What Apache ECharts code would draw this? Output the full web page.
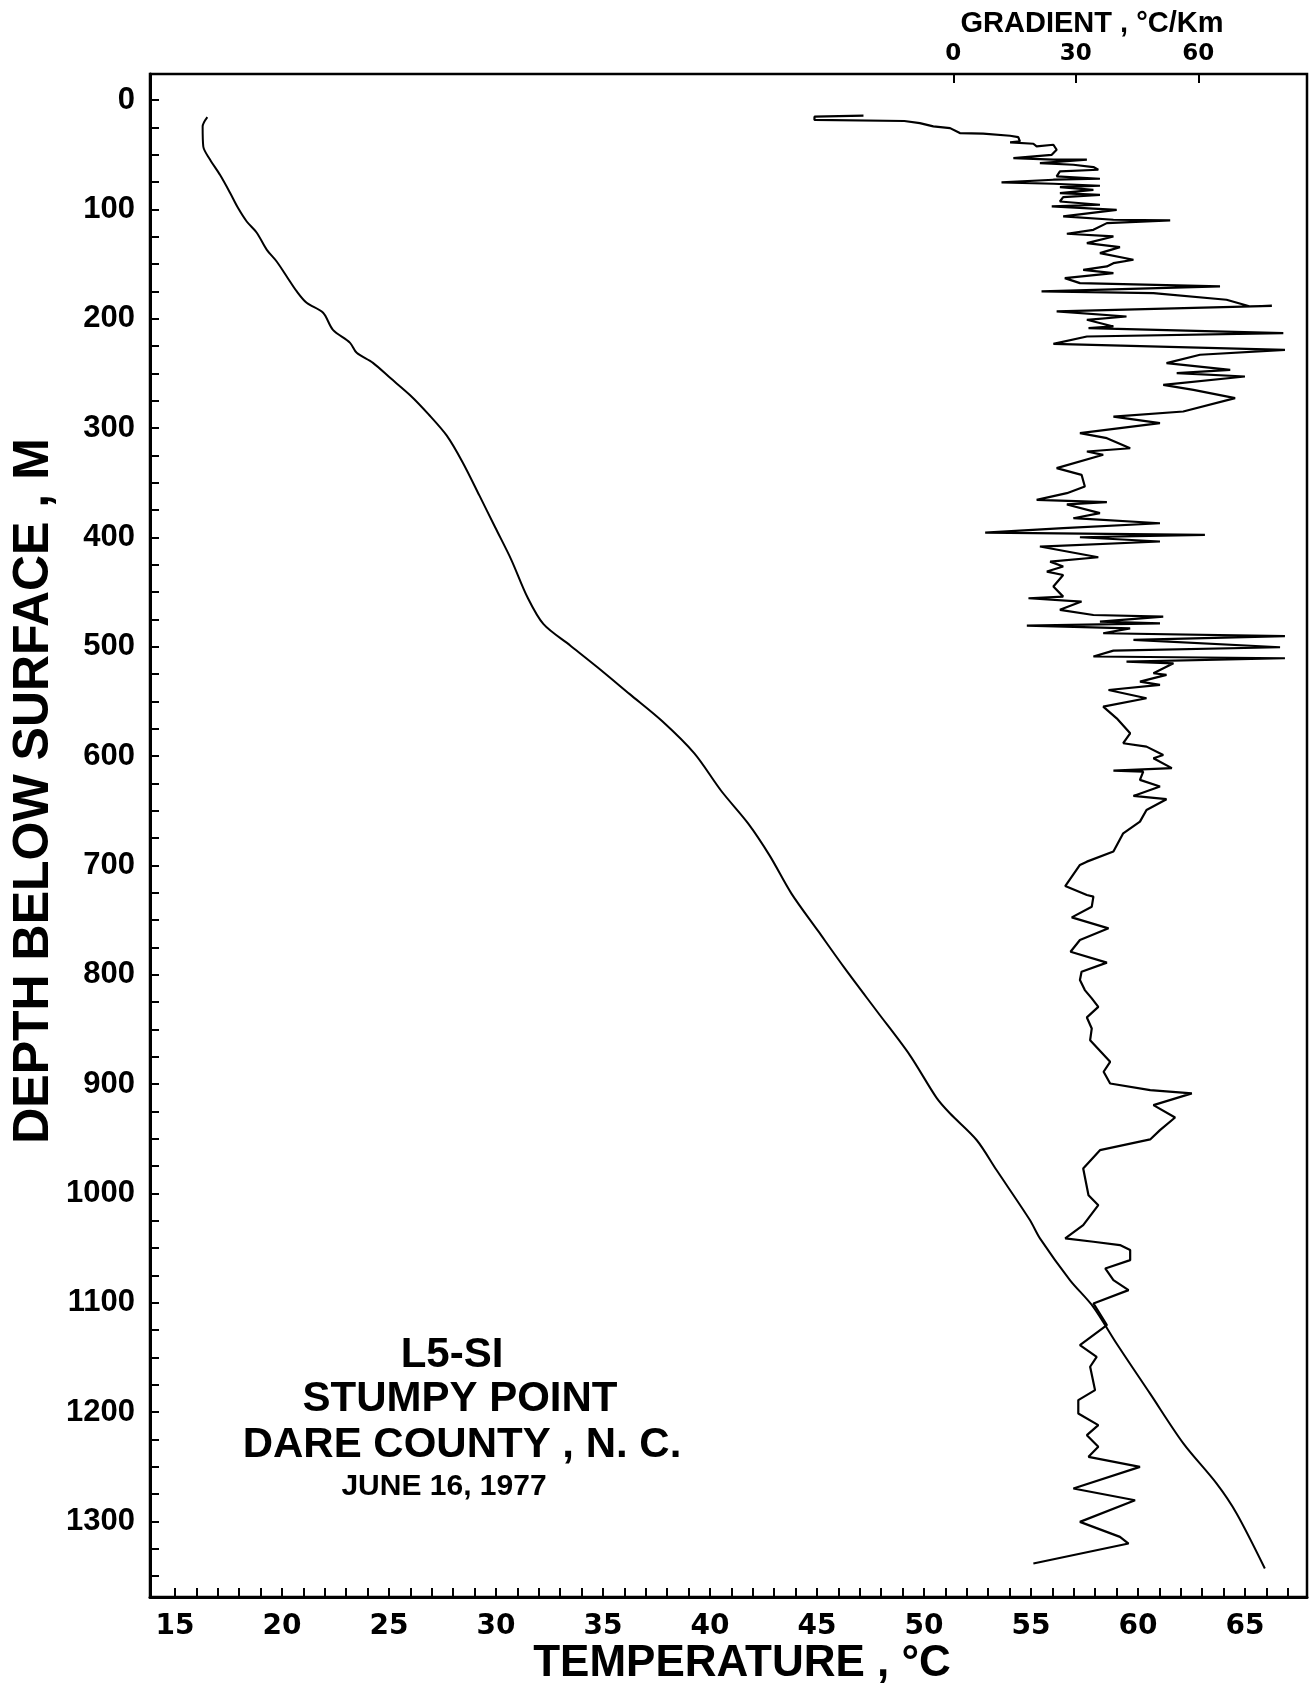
<!DOCTYPE html>
<html>
<head>
<meta charset="utf-8">
<title>L5-SI Stumpy Point</title>
<script src="https://cdn.jsdelivr.net/npm/echarts@6/dist/echarts.min.js"></script>
<style>
    html, body { margin: 0; padding: 0; background: #fff; }
    #main { width: 1312px; height: 1688px; }
</style>
</head>
<body>
<div id="main"></div>
<script>
// 温度曲线 (深度 m, 温度 °C)
var tempDepth = [15.4, 24, 42.3, 54.4, 68.2, 84.6, 98.4, 110.9, 121.2, 136.8, 147.5, 161.2, 174.9, 185.3, 194.4,
    210, 221.9, 231, 240.2, 253.9, 270, 287.1, 306.8, 331.5, 361.0, 390.6, 420.1, 454.6, 479.2, 498.9, 518.6,
    543.2, 567.8, 597.4, 631.8, 661.4, 690.9, 725.4, 759.8, 794.3, 833.7, 873.1, 912.5, 926.6, 951, 978.5,
    1024.2, 1041, 1079.1, 1103.6, 1137.1, 1182.8, 1228.5, 1265.1, 1292.6, 1342.9];
var tempValue = [16.51, 16.29, 16.32, 16.64, 17.10, 17.57, 17.94, 18.35, 18.82, 19.29, 19.75, 20.22, 20.69, 21.15, 21.92,
    22.38, 23.18, 23.49, 24.25, 25.05, 26.0, 26.84, 27.70, 28.45, 29.21, 29.96, 30.71, 31.47, 32.22, 33.48, 34.74,
    36.25, 37.76, 39.27, 40.53, 41.78, 42.79, 43.80, 45.05, 46.31, 47.82, 49.33, 50.59, 51.21, 52.46, 53.39,
    54.95, 55.42, 56.82, 57.91, 59.00, 60.56, 62.12, 63.67, 64.61, 65.93];

// 梯度曲线 (深度 m, 梯度 °C/Km)
var gradDepth = [14, 15, 18, 19, 20.9, 23.9, 25.5, 30.0, 30.6, 32.5, 33.7, 37.7, 38.6, 39.8, 42.2, 40.7, 45.3, 49.9,
    52.9, 54.4, 54.4, 57.5, 59.0, 61.1, 63.6, 65.1, 69.7, 71.8, 72.7, 75.2, 76.4, 78.2, 79.4, 81.9, 84.9, 86.5,
    88.6, 92.6, 95.6, 97.1, 100.2, 106.3, 109.3, 109.9, 112.4, 118.5, 122.1, 124.6, 130.7, 134.3, 139.8, 145.9,
    149.0, 152.0, 155.1, 158.1, 162.7, 167.3, 170.3, 174.9, 176.4, 182.5, 188.6, 188.0, 193.2, 197.8, 200.8,
    206.9, 208.4, 213.0, 216.1, 222.8, 228.3, 232.8, 240.5, 246.6, 249.6, 252.7, 260.3, 264.9, 272.5, 284.7,
    289.3, 295.4, 304.5, 309.1, 318.3, 321.3, 324.3, 336.5,
    342.6, 353.3, 359.4, 365.5, 367.6, 369.7, 377.7, 382.3, 386.9, 391.4, 395.4, 397.5, 399.7, 403.6, 408.2,
    418.0, 422.0, 426.5, 431.1, 434.2, 444.8, 454.0, 455.5, 458.5, 466.1, 470.8, 472.3, 476.8, 478.4, 480.5,
    483.1, 487.5, 490.1, 493.6, 500.3, 503.4, 508.8, 510.4, 513.4, 515.0, 524.1, 525.6, 531.7, 534.8, 539.4,
    547.0, 554.6, 565.3, 579.0, 588.1, 591.2, 598.8, 601.8, 610.9, 613.1, 614.0, 621.6, 627.7, 636.3, 639.3, 649.1,
    659.8, 670.5, 687.2, 696.4, 699.4, 718.7, 726.9, 728.4, 737.6, 747.4, 757.4, 768.1, 778.8, 788.8, 797.1,
    804.7, 813.9, 821.5, 829.2, 838.9, 849.0, 859.7, 879.5, 888.6, 899.3, 905.4, 908.4, 919.1, 930.4, 942.0,
    950.5, 960.3, 977.0, 1001.5, 1010.6,
    1028.8, 1041.0, 1044.1, 1047.1, 1051.7, 1060.9, 1068.5, 1079.1, 1088.3, 1100.5, 1120.3, 1138.6, 1149.3,
    1158.4, 1179.8, 1188.9, 1201.1, 1211.8, 1221.0, 1231.6, 1240.8, 1250.0, 1269.8, 1280.5, 1300.3, 1314.0,
    1320.1, 1338.4];
var gradValue = [-22, -34, -34, -12, -8.2, -4.9, -0.8, 1.6, 7.3, 13.9, 15.9, 16.3, 13.9, 19.6, 20.4, 24.5, 25.3, 24.1,
    14.7, 24.5, 32.7, 21.2, 29.4, 34.3, 35.5, 26.1, 25.3, 35.9, 24.5, 11.8, 24.5, 35.9, 26.1, 34.3, 26.1, 35.9,
    26.9, 26.1, 35.9, 24.1, 40.0, 26.9, 39.2, 53.1, 37.6, 34.3, 27.8, 39.2, 32.7, 40.8, 35.9, 44.1,
    39.2, 37.6, 31.8, 39.2, 27.3, 31.0, 65.3, 21.6, 49.0, 66.9, 72.7, 78.0, 25.3, 42.4, 32.7,
    39.2, 33.1, 80.8, 32.7, 24.5, 81.2, 60.4, 52.2, 67.8, 54.7, 71.4, 51.4, 58.8, 69.0, 56.3,
    39.2, 50.6, 31.0, 37.6, 43.3, 32.7, 36.7, 25.3,
    31.4, 32.2, 27.8, 20.4, 37.6, 27.8, 35.9, 29.4, 50.6, 26.9, 7.8, 61.6, 31.0, 50.6, 21.2,
    35.5, 23.7, 26.9, 22.9, 26.9, 24.5, 26.9, 18.4, 31.4, 26.1, 34.3, 51.4, 35.9, 50.6, 18.0,
    43.3, 36.7, 81.2, 44.1, 80.0, 39.2, 34.3, 81.2, 42.4, 53.9, 49.0, 52.2, 45.7, 50.6, 38.0,
    47.3, 36.7, 40.0, 43.3, 41.6, 47.3, 51.4, 49.0, 53.5, 39.2, 46.5, 45.7, 50.6, 44.1, 52.2, 47.3,
    45.7, 41.6, 39.2, 32.7, 31.0, 27.4, 32.7, 34.3, 33.9, 29.0, 38.0, 31.0, 28.7, 37.6, 31.4,
    31.0, 32.2, 33.9, 35.5, 32.7, 33.9, 33.5, 38.4, 36.8, 38.4, 48.2, 58.4, 49.0, 54.3, 50.6,
    48.2, 35.9, 31.8, 33.1, 35.5,
    31.8, 27.4, 34.3, 40.8, 43.3, 43.3, 37.2, 39.2, 42.9, 34.3, 37.6, 31.0, 35.1,
    33.5, 34.7, 30.6, 30.6, 35.5, 32.7, 35.5, 33.1, 45.7, 29.4, 44.5, 31.0, 40.8,
    42.9, 19.6];

// 刻度
var depthLabels = [0, 100, 200, 300, 400, 500, 600, 700, 800, 900, 1000, 1100, 1200, 1300];
var depthTicks = [];
for (var d = 0; d <= 1350; d += 25) { depthTicks.push(d); }
var tempLabels = [15, 20, 25, 30, 35, 40, 45, 50, 55, 60, 65];
var tempTicks = [];
for (var t = 15; t <= 67; t++) { tempTicks.push(t); }
var gradLabels = [0, 30, 60];

var myChart = echarts.init(document.getElementById('main'));

var tempData = tempValue.map(function (v, i) { return [v, tempDepth[i]]; });
var gradData = gradValue.map(function (v, i) { return [v, gradDepth[i]]; });

// 不要千位分隔符
function plain(v) { return String(v); }

var option = {
    backgroundColor: '#fff',
    animation: false,
    grid: {
        left: 150, right: 5, top: 74, bottom: 91,
        show: true, borderColor: '#000', borderWidth: 2.5
    },
    xAxis: [
        {
            // 温度轴 (底部)
            type: 'value',
            position: 'bottom',
            min: 13.83,
            max: 67.9,
            axisLine: { show: true, onZero: false, lineStyle: { color: '#000', width: 3 } },
            axisTick: { show: true, inside: true, length: 9, customValues: tempTicks,
                lineStyle: { color: '#000', width: 2 } },
            axisLabel: { customValues: tempLabels, color: '#000', margin: 16, formatter: plain,
                fontFamily: 'DejaVu Sans', fontWeight: 'bold', fontSize: 28 },
            splitLine: { show: false }
        },
        {
            // 梯度轴 (顶部)
            type: 'value',
            position: 'top',
            min: -196.7,
            max: 86.6,
            axisLine: { show: true, onZero: false, lineStyle: { color: '#000', width: 2 } },
            axisTick: { show: true, inside: true, length: 9, customValues: gradLabels,
                lineStyle: { color: '#000', width: 2 } },
            axisLabel: { customValues: gradLabels, color: '#000', margin: 8, formatter: plain,
                fontFamily: 'DejaVu Sans', fontWeight: 'bold', fontSize: 23 },
            splitLine: { show: false }
        }
    ],
    yAxis: {
        type: 'value',
        position: 'left',
        inverse: true,
        min: -24,
        max: 1369,
        axisLine: { show: true, onZero: false, lineStyle: { color: '#000', width: 3 } },
        axisTick: { show: true, inside: true, length: 9, customValues: depthTicks,
            lineStyle: { color: '#000', width: 2 } },
        axisLabel: { customValues: depthLabels, color: '#000', margin: 15, formatter: plain,
            fontFamily: 'Liberation Sans', fontWeight: 'bold', fontSize: 31 },
        splitLine: { show: false }
    },
    graphic: [
        { type: 'text', x: 34, y: 791, rotation: Math.PI / 2,
            style: { text: 'DEPTH BELOW SURFACE , M', font: 'bold 50px "Liberation Sans"', fill: '#000',
                textAlign: 'center', textVerticalAlign: 'middle' } },
        { type: 'text', x: 742, y: 1664,
            style: { text: 'TEMPERATURE , °C', font: 'bold 44px "Liberation Sans"', fill: '#000',
                textAlign: 'center', textVerticalAlign: 'middle' } },
        { type: 'text', x: 1092, y: 24,
            style: { text: 'GRADIENT , °C/Km', font: 'bold 29px "Liberation Sans"', fill: '#000',
                textAlign: 'center', textVerticalAlign: 'middle' } },
        { type: 'text', x: 452, y: 1355,
            style: { text: 'L5-SI', font: 'bold 42px "Liberation Sans"', fill: '#000',
                textAlign: 'center', textVerticalAlign: 'middle' } },
        { type: 'text', x: 460, y: 1399,
            style: { text: 'STUMPY POINT', font: 'bold 42px "Liberation Sans"', fill: '#000',
                textAlign: 'center', textVerticalAlign: 'middle' } },
        { type: 'text', x: 462, y: 1445,
            style: { text: 'DARE COUNTY , N. C.', font: 'bold 42px "Liberation Sans"', fill: '#000',
                textAlign: 'center', textVerticalAlign: 'middle' } },
        { type: 'text', x: 444, y: 1487,
            style: { text: 'JUNE 16, 1977', font: 'bold 30px "Liberation Sans"', fill: '#000',
                textAlign: 'center', textVerticalAlign: 'middle' } }
    ],
    series: [
        {
            name: 'Temperature',
            type: 'line',
            xAxisIndex: 0,
            yAxisIndex: 0,
            data: tempData,
            showSymbol: false,
            smooth: 0.3,
            lineStyle: { color: '#000', width: 2 }
        },
        {
            name: 'Gradient',
            type: 'line',
            xAxisIndex: 1,
            yAxisIndex: 0,
            data: gradData,
            showSymbol: false,
            lineStyle: { color: '#000', width: 2.2 }
        }
    ]
};
myChart.setOption(option);
</script>
</body>
</html>
